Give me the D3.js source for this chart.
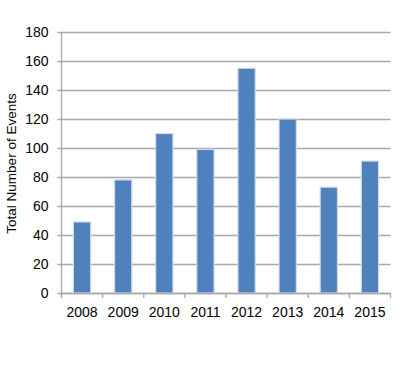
<!DOCTYPE html>
<html>
<head>
<meta charset="utf-8">
<script src="https://cdn.jsdelivr.net/npm/d3@7"></script>
<style>
  body { margin: 0; background: #fff; }
  text { font-family: "Liberation Sans", Arial, sans-serif; fill: #000; }
</style>
</head>
<body>
<div id="chart"></div>
<script>
// data
const years = ["2008", "2009", "2010", "2011", "2012", "2013", "2014", "2015"];
const counts = [49, 78, 110, 99, 155, 120, 73, 91];
const yTicks = [0, 20, 40, 60, 80, 100, 120, 140, 160, 180];

const width = 400, height = 377;
const margin = {top: 32, right: 9.5, bottom: 84, left: 61.5};

const svg = d3.select("#chart")
  .append("svg")
  .attr("width", width)
  .attr("height", height);

// scales
let x = d3.scaleBand()
  .domain(years)
  .range([margin.left, width - margin.right])
  .paddingInner(0.58)
  .paddingOuter(0.29);

let y = d3.scaleLinear()
  .domain([0, 180])
  .range([height - margin.bottom, margin.top]);

const gridColor = "#a8a8a8";

// gridlines
svg.append("g")
  .selectAll("line")
  .data(yTicks)
  .enter()
  .append("line")
    .attr("x1", margin.left - 4)
    .attr("x2", width - margin.right)
    .attr("y1", d => Math.round(y(d)) + 0.5)
    .attr("y2", d => Math.round(y(d)) + 0.5)
    .style("stroke", gridColor)
    .style("stroke-width", 1.3);

// y tick labels
svg.append("g")
  .selectAll("text")
  .data(yTicks)
  .enter()
  .append("text")
    .attr("x", margin.left - 13)
    .attr("y", d => y(d))
    .attr("dy", "0.36em")
    .style("text-anchor", "end")
    .style("font-size", "14px")
    .text(d => d);

// bars, with a soft light edge like the original
svg.append("g")
  .selectAll("rect")
  .data(counts)
  .enter()
  .append("rect")
    .attr("x", (d, i) => x(years[i]))
    .attr("y", d => y(d))
    .attr("width", x.bandwidth())
    .attr("height", d => y(0) - y(d))
    .style("fill", "#4f81bd")
    .style("stroke", "#d3dbe6")
    .style("stroke-width", 1.2);

// y axis line
svg.append("line")
  .attr("x1", margin.left).attr("x2", margin.left)
  .attr("y1", margin.top).attr("y2", y(0) + 5)
  .style("stroke", gridColor).style("stroke-width", 1.3);

// x axis line + category separators
svg.append("line")
  .attr("x1", margin.left).attr("x2", width - margin.right)
  .attr("y1", Math.round(y(0)) + 0.5).attr("y2", Math.round(y(0)) + 0.5)
  .style("stroke", gridColor).style("stroke-width", 1.3);

const step = x.step();
const edges = d3.range(years.length + 1).map(i => margin.left + i * step * (1 + 0) );

svg.append("g")
  .selectAll("line")
  .data(edges)
  .enter()
  .append("line")
    .attr("x1", d => d).attr("x2", d => d)
    .attr("y1", y(0)).attr("y2", y(0) + 5)
    .style("stroke", gridColor).style("stroke-width", 1.3);

// x labels
svg.append("g")
  .selectAll("text")
  .data(years)
  .enter()
  .append("text")
    .attr("x", d => x(d) + x.bandwidth() / 2)
    .attr("y", y(0) + 24)
    .style("text-anchor", "middle")
    .style("font-size", "14px")
    .text(d => d);

// y axis title
svg.append("text")
  .attr("transform", "rotate(-90)")
  .attr("x", -(y(0) + y(180)) / 2 - 1)
  .attr("y", 16)
  .style("text-anchor", "middle")
  .style("font-size", "13.5px")
  .text("Total Number of Events");
</script>
</body>
</html>
